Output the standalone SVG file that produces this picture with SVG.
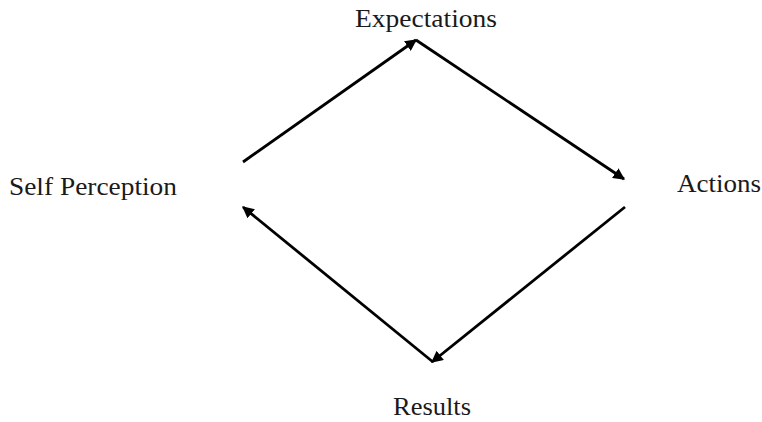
<svg xmlns="http://www.w3.org/2000/svg" width="762" height="422" viewBox="0 0 762 422">
<defs>
<style>
.lbl{font-family:"Liberation Serif","Times New Roman",serif;font-size:26px;fill:#1a1a1a}
.con{stroke:#000;stroke-width:2.8;fill:none;marker-end:url(#ah)}
</style>
<marker id="ah" viewBox="0 0 10 10" refX="9" refY="5" markerWidth="4.2" markerHeight="4.2" orient="auto" markerUnits="strokeWidth">
<path d="M0,0 L10,5 L0,10 z" fill="#000"/>
</marker>
</defs>
<rect width="762" height="422" fill="#fff"/>
<g id="connectors">
<line class="con" x1="243" y1="162" x2="416" y2="40"/>
<line class="con" x1="416" y1="40" x2="624" y2="179"/>
<line class="con" x1="625" y1="207" x2="432" y2="362"/>
<line class="con" x1="433" y1="362" x2="243" y2="207"/>
</g>
<g id="expectations"><text class="lbl" x="355" y="27" textLength="142" lengthAdjust="spacingAndGlyphs">Expectations</text></g>
<g id="actions"><text class="lbl" x="677" y="192" textLength="84" lengthAdjust="spacingAndGlyphs">Actions</text></g>
<g id="results"><text class="lbl" x="393" y="415" textLength="78" lengthAdjust="spacingAndGlyphs">Results</text></g>
<g id="self-perception"><text class="lbl" x="9" y="195" textLength="168" lengthAdjust="spacingAndGlyphs">Self Perception</text></g>
</svg>
